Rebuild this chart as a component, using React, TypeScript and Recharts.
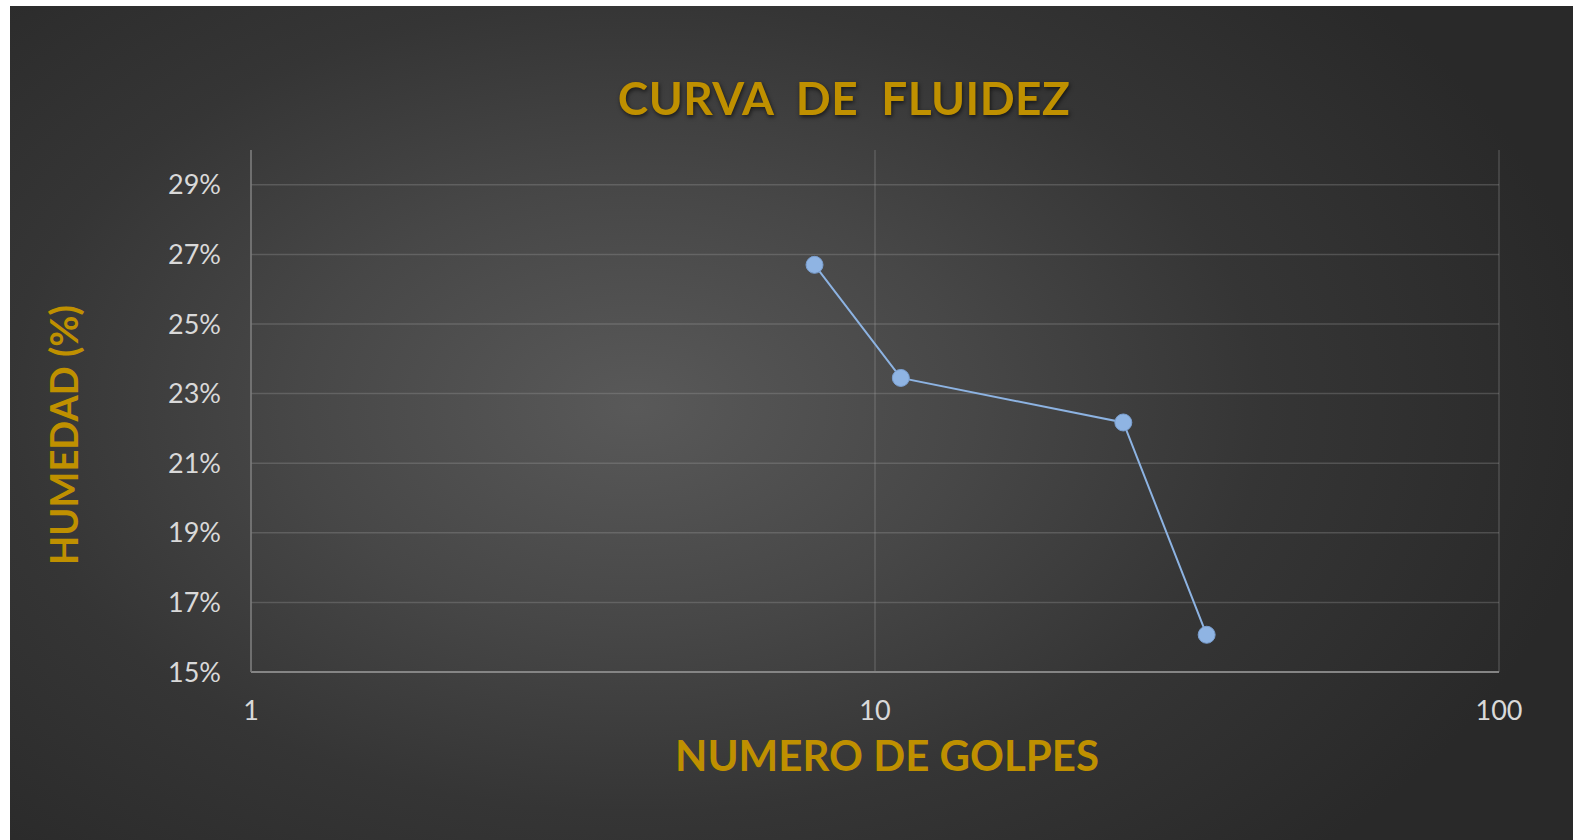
import React from 'react';
import { LineChart, Line, XAxis, YAxis, CartesianGrid } from 'recharts';

const golpes = [8, 11, 25, 34];
const humedad = [0.267, 0.2345, 0.2217, 0.1607];
const xTicks = [1, 10, 100];
const yTicks = [0.15, 0.17, 0.19, 0.21, 0.23, 0.25, 0.27, 0.29];
const chartTitle = 'CURVA  DE  FLUIDEZ';
const xTitle = 'NUMERO DE GOLPES';
const yTitle = 'HUMEDAD (%)';

const data = golpes.map((g, i) => ({ golpes: g, humedad: humedad[i] }));

const W = 1563;
const H = 834;
const gold = '#bf9000';
const tickStyle = { fill: '#d9d9d9', fontSize: 27, fontFamily: 'Lato, sans-serif' };

export default function App() {
  return (
    <div
      style={{
        position: 'absolute',
        left: 10,
        top: 6,
        width: W,
        height: H,
        background:
          'radial-gradient(ellipse 62% 75% at 40% 48%, #595959 0%, #474747 35%, #353535 65%, #292929 100%)',
        overflow: 'hidden',
      }}
    >
      <LineChart
        width={W}
        height={H}
        data={data}
        margin={{ top: 144, right: 74, bottom: 118, left: 0 }}
      >
        <CartesianGrid
          stroke="rgba(170,170,170,0.28)"
          strokeWidth={1.5}
          horizontalValues={yTicks}
          verticalValues={xTicks}
        />
        <XAxis
          dataKey="golpes"
          type="number"
          scale="log"
          domain={[1, 100]}
          ticks={xTicks}
          allowDataOverflow
          tickLine={false}
          tickSize={29}
          tickMargin={0}
          height={50}
          axisLine={{ stroke: '#858585', strokeWidth: 2 }}
          tick={tickStyle}
        />
        <YAxis
          dataKey="humedad"
          type="number"
          domain={[0.15, 0.3]}
          ticks={yTicks}
          allowDataOverflow
          width={241}
          tickLine={false}
          tickSize={30}
          tickMargin={0}
          axisLine={{ stroke: '#7a7a7a', strokeWidth: 1.5 }}
          tick={tickStyle}
          tickFormatter={(v: number) => `${Math.round(v * 100)}%`}
        />
        <Line
          type="linear"
          dataKey="humedad"
          stroke="#8db3e2"
          strokeWidth={2}
          dot={{ r: 8.5, fill: '#8fb4e3', stroke: '#7a9fd0', strokeWidth: 1 }}
          isAnimationActive={false}
        />
      </LineChart>
      <svg
        width={W}
        height={H}
        style={{ position: 'absolute', left: 0, top: 0, pointerEvents: 'none' }}
      >
        <text
          x={834}
          y={109}
          textAnchor="middle"
          fill={gold}
          fontFamily="Lato, sans-serif"
          fontWeight={700}
          fontSize={46}
          letterSpacing={0.4}
          style={{ whiteSpace: 'pre', filter: 'drop-shadow(1px 2px 2px rgba(0,0,0,0.6))' }}
        >
          {chartTitle}
        </text>
        <text
          x={877}
          y={765}
          textAnchor="middle"
          fill={gold}
          fontFamily="Lato, sans-serif"
          fontWeight={700}
          fontSize={42}
        >
          {xTitle}
        </text>
        <text
          x={68}
          y={429}
          textAnchor="middle"
          fill={gold}
          fontFamily="Lato, sans-serif"
          fontWeight={700}
          fontSize={38}
          transform="rotate(-90 68 429)"
        >
          {yTitle}
        </text>
      </svg>
    </div>
  );
}
